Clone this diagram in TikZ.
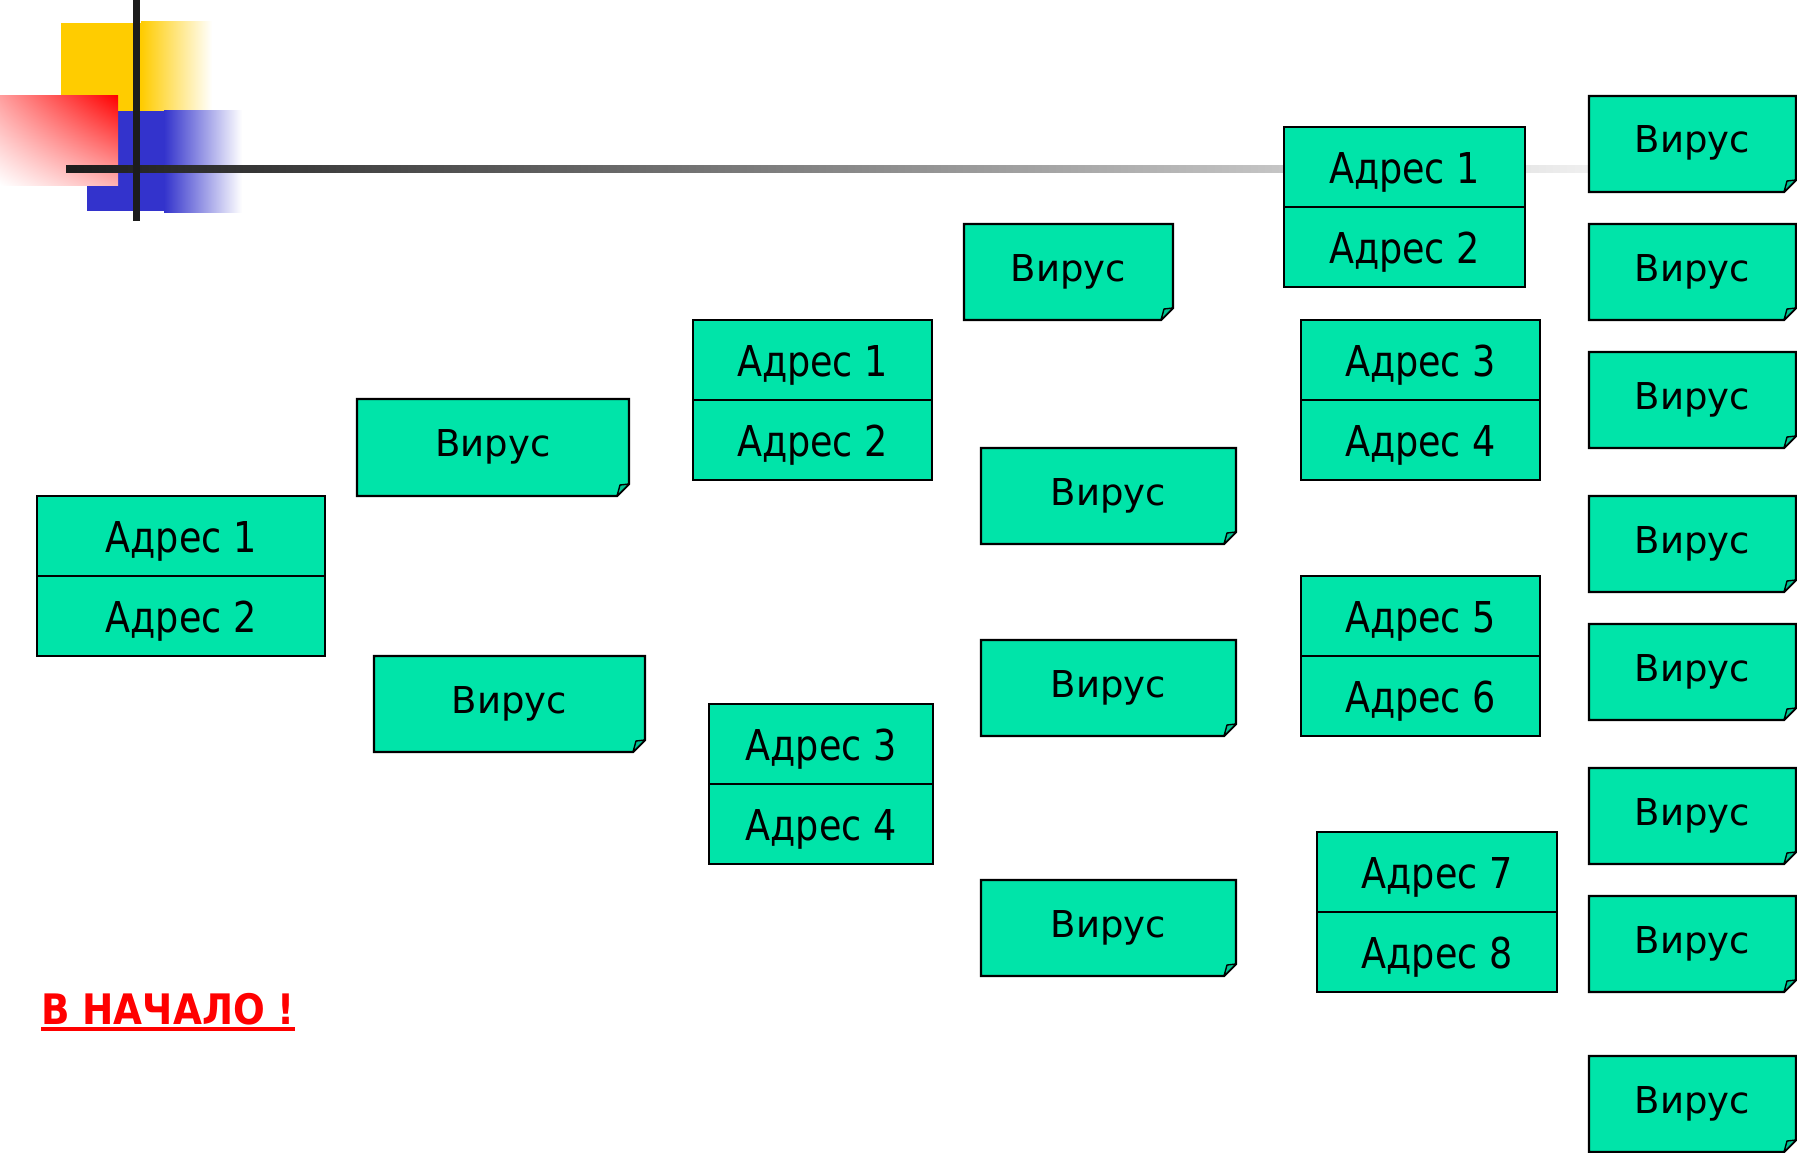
\documentclass[tikz,border=0pt]{standalone}
\usepackage{fontspec}
\usetikzlibrary{shadings}
\setmainfont{DejaVu Sans}
\newfontfamily\virfont{DejaVu Sans}
\newfontfamily\addrfont[FakeStretch=0.86]{DejaVu Sans}
\newfontfamily\startfont[FakeStretch=0.89]{DejaVu Sans}
\definecolor{vgreen}{HTML}{00E4A9}
\definecolor{logoyellow}{HTML}{FFCC00}
\definecolor{logoblue}{HTML}{3333CC}
\definecolor{barc}{HTML}{1C1C1C}
\tikzset{
  addr/.style={draw=black, line width=2.2pt, fill=vgreen, inner sep=0pt, outer sep=0pt,
    minimum height=80pt, text height=38pt, text depth=6pt,
    font=\addrfont\fontsize{42.5}{50}\selectfont},
  vshape/.style={draw=black, fill=vgreen, line width=2.2pt, line join=miter},
  vfold/.style={draw=black, fill=vgreen!85!black, line width=1.4pt, line join=round},
  vtext/.style={inner sep=0pt, outer sep=0pt, text height=30pt, text depth=12pt,
    font=\virfont\fontsize{37}{44}\selectfont},
  starttext/.style={font=\startfont\bfseries\fontsize{42}{50}\selectfont, text=red,
    inner sep=0pt, anchor=base west}
}
% address box: name, x1, y1, x2, label1, label2
\newcommand\addrbox[6]{%
  \node[addr, minimum width={#4-#2}, anchor=north west] (#1a) at (#2,#3) {Адрес #5};
  \node[addr, minimum width={#4-#2}, anchor=north west] (#1b) at (#1a.south west) {Адрес #6};
}
% virus box: name, x1, y1, x2, y2
\newcommand\virbox[5]{%
  \filldraw[vshape] (#2,#3) -- (#4,#3) -- (#4,#5-12) -- (#4-12,#5) -- (#2,#5) -- cycle;
  \filldraw[vfold] (#4,#5-12) -- (#4-9,#5-11) .. controls (#4-10,#5-6) .. (#4-12,#5) -- cycle;
  \node[vtext, minimum width={#4-#2}, minimum height={#5-#3}] (#1) at ({(#2+#4)/2},{(#3+#5)/2}) {Вирус};
}
\begin{document}
\begin{tikzpicture}[x=1pt, y=-1pt]
\useasboundingbox (0,0) rectangle (1797,1153);
\fill[white] (0,0) rectangle (1797,1153);
% logo
\fill[logoyellow] (61,23) rectangle (141.5,111);
\shade[left color=logoyellow, right color=white] (141,22) rectangle (212,111);
\fill[logoblue] (87,111) rectangle (165,211);
\shade[left color=logoblue, right color=white] (164,111) rectangle (242,212);
\shade[upper right=red, upper left=red!38, lower left=white, lower right=red!30] (0,96) rectangle (118,185);
\shade[left color=barc, right color=white] (66,166) rectangle (1700,173);
\fill[barc] (133,0) rectangle (140,221);
% address boxes
\addrbox{al}{37}{496}{325}{1}{2}
\addrbox{am}{693}{320}{932}{1}{2}
\addrbox{an}{709}{704}{933}{3}{4}
\addrbox{ra}{1284}{127}{1525}{1}{2}
\addrbox{rb}{1301}{320}{1540}{3}{4}
\addrbox{rc}{1301}{576}{1540}{5}{6}
\addrbox{rd}{1317}{832}{1557}{7}{8}
% virus boxes
\virbox{v1}{357}{399}{629}{496}
\virbox{v2}{374}{656}{645}{752}
\virbox{v3}{964}{224}{1173}{320}
\virbox{v4}{981}{448}{1236}{544}
\virbox{v5}{981}{640}{1236}{736}
\virbox{v6}{981}{880}{1236}{976}
\virbox{r1}{1589}{96}{1796}{192}
\virbox{r2}{1589}{224}{1796}{320}
\virbox{r3}{1589}{352}{1796}{448}
\virbox{r4}{1589}{496}{1796}{592}
\virbox{r5}{1589}{624}{1796}{720}
\virbox{r6}{1589}{768}{1796}{864}
\virbox{r7}{1589}{896}{1796}{992}
\virbox{r8}{1589}{1056}{1796}{1152}
% start link
\node[starttext] (start) at (41,1024) {В НАЧАЛО !};
\draw[red, line width=4pt] ([yshift=-5pt]start.base west) -- ([yshift=-5pt]start.base east);
\end{tikzpicture}
\end{document}
